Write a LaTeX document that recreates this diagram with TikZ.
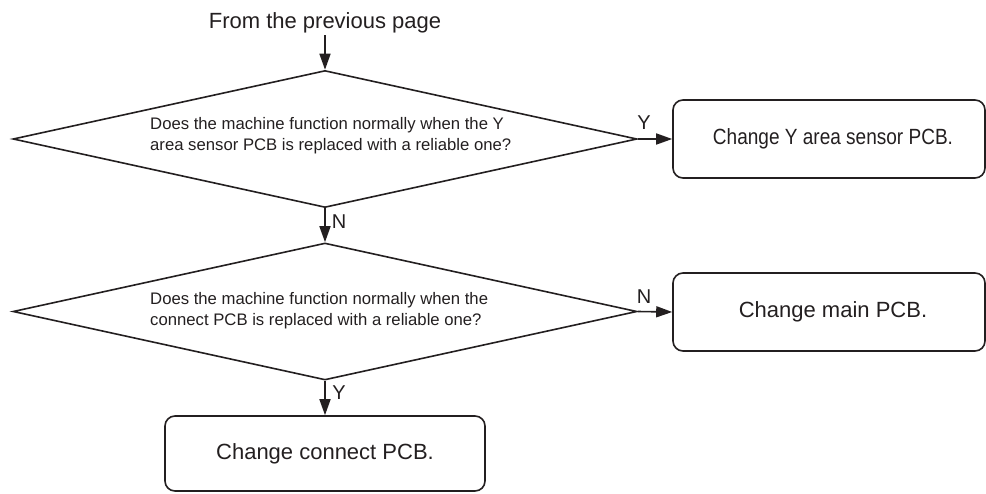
\documentclass[tikz,border=0pt]{standalone}
\usepackage{fontspec}
\usepackage{graphicx}
\setmainfont{Liberation Sans}
\usetikzlibrary{arrows.meta,shapes.geometric}
\definecolor{ink}{HTML}{231F20}
\tikzset{
  conn/.style={draw=ink,line width=1.6pt,-{Triangle[length=16pt,width=11pt]}},
  decision/.style={diamond,draw=ink,line width=1.6pt,inner sep=0pt,aspect=4.55,
    minimum width=624pt,minimum height=137pt},
  qtext/.style={inner sep=0pt,anchor=west,align=left,text=ink,
    font=\fontsize{16.7}{21}\selectfont},
  actbox/.style={rectangle,draw=ink,line width=1.6pt,rounded corners=10pt,
    inner sep=0pt,text=ink,font=\fontsize{22}{26}\selectfont},
  lbl/.style={inner sep=0pt,text=ink,font=\fontsize{20}{24}\selectfont},
}
\begin{document}
\begin{tikzpicture}[x=1pt,y=-1pt]
\useasboundingbox (0,0) rectangle (986,493);
\node[inner sep=0pt,anchor=base,text=ink,font=\fontsize{22}{26}\selectfont] (from) at (325,28) {From the previous page};
\coordinate (fromend) at (325,35);
\node[decision] (q1) at (325,139) {};
\node[qtext] (q1t) at (150,135.5) {Does the machine function normally when the Y\\area sensor PCB is replaced with a reliable one?};
\node[decision] (q2) at (325,311.5) {};
\node[qtext] (q2t) at (150,311) {Does the machine function normally when the\\connect PCB is replaced with a reliable one?};
\node[actbox,minimum width=312pt,minimum height=78pt] (ay) at (829,139) {\hspace*{8pt}\scalebox{0.865}[1]{Change Y area sensor PCB.}};
\node[actbox,minimum width=312pt,minimum height=78pt] (am) at (829,312) {\hspace*{8pt}Change main PCB.};
\node[actbox,minimum width=320pt,minimum height=75pt] (ac) at (325,453.5) {Change connect PCB.};
\draw[conn] (fromend) -- (q1.north);
\draw[conn] (q1.east) -- (ay.west);
\draw[conn] (q1.south) -- (q2.north);
\draw[conn] (q2.east) -- (am.west);
\draw[conn] (q2.south) -- (ac.north);
\node[lbl] (ly1) at (644,123) {Y};
\node[lbl] (ln1) at (339,222) {N};
\node[lbl] (ln2) at (644,297) {N};
\node[lbl] (ly2) at (339,393) {Y};
\end{tikzpicture}
\end{document}
